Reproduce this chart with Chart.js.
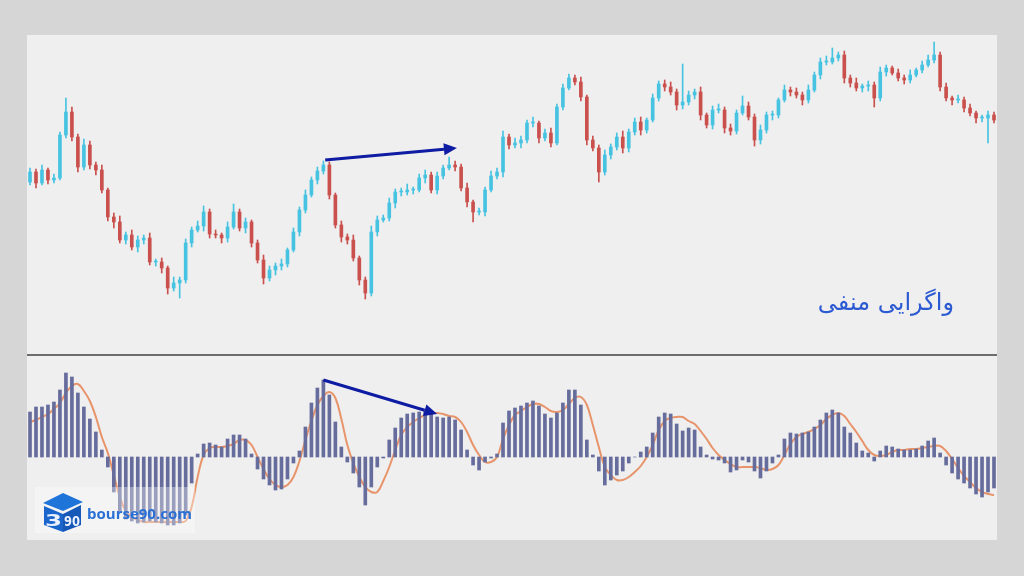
<!DOCTYPE html>
<html>
<head>
<meta charset="utf-8">
<script src="https://cdn.jsdelivr.net/npm/chart.js@4.4.1/dist/chart.umd.min.js"></script>
<style>
  body { margin: 0; width: 1024px; height: 576px; background: #d6d6d6; position: relative; overflow: hidden; font-family: "DejaVu Sans", sans-serif; }
  #panel { position: absolute; left: 27px; top: 35px; width: 970px; height: 505px; background: #efefef; }
  #priceChart { position: absolute; left: 27px; top: 35px; }
  #macdChart { position: absolute; left: 27px; top: 356px; }
  #sep { position: absolute; left: 27px; top: 354px; width: 970px; height: 2px; background: #6d6d6d; }
  #title { position: absolute; right: 70px; top: 288px; color: #2c5ad2; font-size: 24px; direction: rtl; white-space: nowrap; }
  #veil { position: absolute; left: 35px; top: 487px; width: 160px; height: 46px; background: rgba(255,255,255,0.35); }
  #logo { position: absolute; left: 40px; top: 491px; }
  #site { position: absolute; left: 87px; top: 503px; color: #2a6fd4; font: bold 15px "Open Sans", sans-serif; }
</style>
</head>
<body>
<div id="panel"></div>
<canvas id="priceChart" width="970" height="319"></canvas>
<div id="sep"></div>
<canvas id="macdChart" width="970" height="184"></canvas>
<div id="title">واگرایی منفی</div>
<div id="veil"></div>
<svg id="logo" width="44" height="42" viewBox="0 0 44 42">
  <polygon points="3,12 23,2 43,11 23,20" fill="#1f74d9"/>
  <polygon points="4,15 23,23 23,41 4,34" fill="#1a66cc"/>
  <polygon points="23,23 41,14 41,34 23,41" fill="#1558b8"/>
  <text x="5" y="35" font-family="DejaVu Sans" font-weight="bold" font-size="16" fill="#eaf2ff" textLength="17" lengthAdjust="spacingAndGlyphs">3</text>
  <text x="24" y="35" font-family="DejaVu Sans" font-weight="bold" font-size="14" fill="#eaf2ff" textLength="16" lengthAdjust="spacingAndGlyphs">90</text>
</svg>
<div id="site">bourse90.com</div>

<script>
// price data (one candle per slot)
const firstOpen = 178;
const closes = [
  188, 177, 190, 180, 182, 225, 248, 223, 193, 215,
  195, 190, 170, 143, 138, 120, 125, 113, 120, 122,
  98, 98, 92, 72, 77, 80, 117, 130, 134, 148,
  126, 125, 122, 133, 148, 132, 138, 117, 100, 82,
  90, 94, 96, 110, 128, 150, 165, 180, 189, 195,
  165, 135, 123, 120, 102, 80, 67, 128, 140, 142,
  157, 168, 168, 170, 170, 182, 185, 170, 184, 192,
  195, 193, 172, 158, 148, 148, 170, 184, 188, 223,
  215, 217, 220, 237, 237, 222, 227, 217, 253, 272,
  282, 278, 263, 220, 212, 188, 205, 213, 223, 212,
  228, 238, 230, 240, 262, 276, 273, 268, 255, 258,
  265, 268, 245, 235, 250, 250, 232, 229, 247, 254,
  243, 220, 230, 245, 245, 260, 270, 268, 265, 260,
  270, 285, 298, 298, 302, 305, 282, 277, 272, 274,
  275, 262, 288, 292, 287, 282, 280, 285, 290, 295,
  300, 305, 273, 262, 260, 260, 252, 247, 242, 242,
  245, 240
];
const highWicks = [
  4, 3, 5, 2, 4, 3, 14, 5, 3, 6,
  4, 3, 5, 2, 4, 6, 3, 5, 4, 3,
  5, 3, 4, 2, 6, 3, 4, 3, 5, 6,
  3, 4, 2, 5, 8, 3, 4, 2, 3, 5,
  4, 3, 5, 2, 4, 3, 5, 3, 4, 4,
  3, 2, 4, 3, 5, 2, 3, 6, 4, 3,
  5, 3, 4, 6, 3, 4, 5, 3, 4, 3,
  8, 4, 3, 5, 2, 4, 3, 5, 4, 6,
  3, 5, 4, 3, 6, 2, 4, 5, 3, 4,
  4, 3, 5, 2, 4, 3, 5, 3, 4, 6,
  3, 4, 5, 2, 4, 3, 4, 5, 3, 38,
  4, 3, 5, 2, 4, 6, 3, 4, 3, 10,
  4, 3, 5, 3, 4, 2, 5, 3, 4, 3,
  5, 3, 4, 6, 10, 3, 4, 3, 5, 2,
  4, 3, 5, 3, 2, 4, 3, 5, 2, 4,
  5, 13, 3, 4, 2, 5, 3, 4, 2, 3,
  4, 3
];
const lowWicks = [
  3, 5, 2, 4, 3, 2, 3, 4, 5, 3,
  4, 5, 3, 4, 6, 3, 4, 3, 5, 4,
  3, 4, 5, 6, 3, 15, 3, 4, 2, 5,
  4, 3, 5, 4, 2, 3, 5, 4, 3, 6,
  3, 5, 4, 3, 2, 4, 3, 2, 4, 3,
  4, 3, 5, 4, 3, 5, 6, 3, 4, 2,
  3, 5, 4, 3, 4, 2, 5, 3, 4, 3,
  2, 4, 3, 5, 10, 3, 4, 2, 3, 5,
  4, 3, 5, 3, 4, 5, 3, 4, 2, 3,
  2, 3, 4, 5, 3, 10, 3, 4, 3, 5,
  4, 3, 5, 3, 2, 3, 4, 3, 5, 4,
  3, 4, 5, 3, 4, 3, 5, 4, 3, 2,
  3, 6, 4, 3, 5, 3, 2, 4, 3, 5,
  3, 2, 4, 3, 2, 3, 5, 4, 3, 4,
  5, 9, 3, 4, 2, 3, 4, 3, 2, 3,
  2, 3, 4, 3, 5, 3, 4, 3, 5, 4,
  25, 3
];

// MACD histogram and its signal line
const macdHist = [
  45, 50, 50, 52, 55, 67, 84, 80, 64, 50,
  38, 25, 7, -10, -35, -55, -62, -64, -66, -65,
  -64, -65, -66, -68, -68, -66, -58, -26, 3, 13,
  14, 12, 10, 18, 22, 22, 18, 3, -12, -22,
  -28, -33, -32, -22, -6, 6, 30, 54, 69, 77,
  62, 35, 10, -5, -16, -30, -48, -30, -10, -1,
  17, 29, 39, 43, 44, 45, 46, 44, 40, 39,
  40, 37, 27, 7, -8, -13, -5, -1, 3, 34,
  46, 49, 51, 54, 56, 51, 43, 39, 44, 54,
  67, 67, 52, 17, 2, -14, -28, -23, -18, -14,
  -6, 0, 5, 10, 24, 40, 44, 43, 33, 26,
  29, 27, 10, 2, -2, -3, -6, -15, -13, -3,
  -5, -14, -21, -14, -6, 2, 18, 24, 23, 24,
  25, 30, 37, 44, 47, 44, 30, 24, 14, 6,
  4, -4, 6, 11, 10, 8, 7, 7, 8, 11,
  16, 19, 4, -8, -16, -22, -26, -31, -37, -40,
  -35, -31
];
const macdSignal = [
  35, 37, 40, 43, 48, 54, 64, 71, 73, 66,
  56, 40, 20, 4, -18, -40, -54, -60, -63, -65,
  -65, -65, -65, -65, -65, -65, -64, -50, -20, 2,
  9, 10, 10, 11, 13, 17, 17, 12, 0, -12,
  -22, -28, -30, -28, -20, -4, 17, 36, 52, 61,
  65, 59, 38, 12, -6, -20, -30, -35, -35, -24,
  -10, 7, 22, 30, 35, 39, 42, 44, 44, 43,
  41, 40, 35, 25, 12, 2, -5, -5, 0, 18,
  32, 42, 46, 50, 53, 53, 50, 46, 45, 47,
  53, 59, 60, 52, 32, 10, -10, -18, -23, -23,
  -20, -15, -9, 0, 12, 27, 36, 39, 40, 40,
  36, 33, 26, 18, 9, 2, -3, -7, -10, -10,
  -10, -10, -11, -13, -12, -8, 2, 13, 20, 23,
  25, 28, 32, 38, 42, 44, 41, 33, 25, 16,
  7, 2, 1, 2, 5, 7, 7, 8, 8, 9,
  10, 11, 11, 6, -2, -11, -19, -25, -31, -35,
  -37, -38
];

// divergence arrows: [slot, value]
const priceArrow = { from: [49.3, 200], to: [71.3, 212] };
const macdArrow = { from: [49, 77], to: [68, 43] };

const UP = '#47c3e2';
const DOWN = '#c9504d';
const labels = closes.map((_, i) => i + 1);

const opens = closes.map((c, i) => i === 0 ? firstOpen : closes[i - 1]);
const bodies = closes.map((c, i) => [Math.min(opens[i], c), Math.max(opens[i], c)]);
const wicks = closes.map((c, i) => [Math.min(opens[i], c) - lowWicks[i], Math.max(opens[i], c) + highWicks[i]]);
const candleColors = closes.map((c, i) => c >= opens[i] ? UP : DOWN);

const arrowPlugin = {
  id: 'arrow',
  afterDatasetsDraw(chart, args, opts) {
    const { ctx, scales } = chart;
    const x1 = scales.x.getPixelForValue(opts.from[0]);
    const y1 = scales.y.getPixelForValue(opts.from[1]);
    const x2 = scales.x.getPixelForValue(opts.to[0]);
    const y2 = scales.y.getPixelForValue(opts.to[1]);
    const ang = Math.atan2(y2 - y1, x2 - x1);
    const len = 13, w = 6;
    const bx = x2 - len * Math.cos(ang), by = y2 - len * Math.sin(ang);
    ctx.save();
    ctx.strokeStyle = opts.color;
    ctx.fillStyle = opts.color;
    ctx.lineWidth = 3;
    ctx.beginPath();
    ctx.moveTo(x1, y1);
    ctx.lineTo(bx, by);
    ctx.stroke();
    ctx.beginPath();
    ctx.moveTo(x2, y2);
    ctx.lineTo(bx + w * Math.sin(ang), by - w * Math.cos(ang));
    ctx.lineTo(bx - w * Math.sin(ang), by + w * Math.cos(ang));
    ctx.closePath();
    ctx.fill();
    ctx.restore();
  }
};

const baseOptions = (yMin, yMax, arrow) => ({
  responsive: false,
  animation: false,
  devicePixelRatio: 1,
  layout: { padding: 0 },
  plugins: {
    legend: { display: false },
    tooltip: { enabled: false },
    arrow: Object.assign({ color: '#0e1ba3' }, arrow)
  },
  scales: {
    x: { display: false, offset: true },
    y: { display: false, min: yMin, max: yMax }
  }
});

new Chart(document.getElementById('priceChart'), {
  type: 'bar',
  data: {
    labels,
    datasets: [
      {
        data: wicks,
        backgroundColor: candleColors,
        barThickness: 1,
        grouped: false,
        order: 2
      },
      {
        data: bodies,
        backgroundColor: candleColors,
        barThickness: 3,
        minBarLength: 1,
        grouped: false,
        order: 1
      }
    ]
  },
  options: baseOptions(6, 325, priceArrow),
  plugins: [arrowPlugin]
});

new Chart(document.getElementById('macdChart'), {
  type: 'bar',
  data: {
    labels,
    datasets: [
      {
        type: 'line',
        data: macdSignal,
        borderColor: '#e8946a',
        borderWidth: 2,
        pointRadius: 0,
        tension: 0.4,
        order: 2
      },
      {
        data: macdHist,
        backgroundColor: '#666c9c',
        barThickness: 3,
        order: 1
      }
    ]
  },
  options: baseOptions(-83, 101, macdArrow),
  plugins: [arrowPlugin]
});
</script>
</body>
</html>
